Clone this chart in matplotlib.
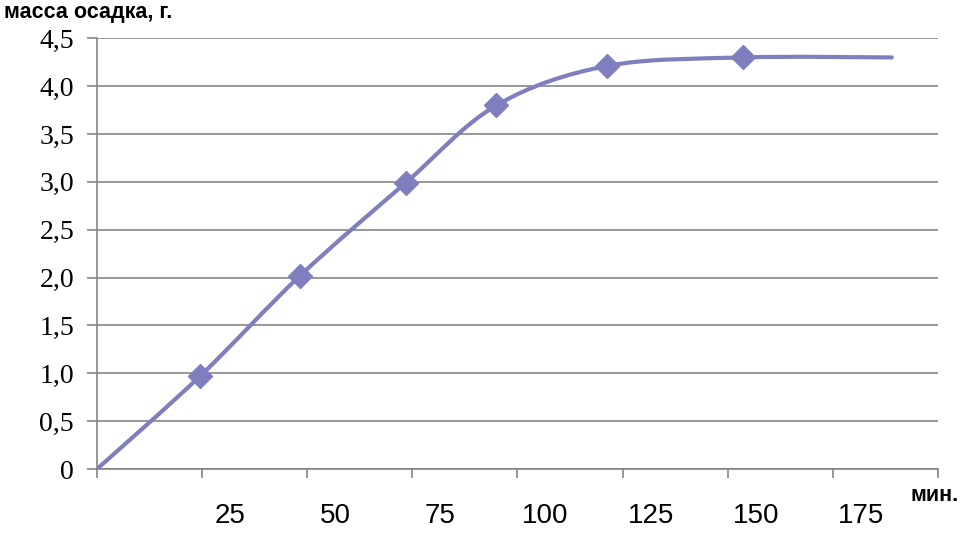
import numpy as np
import matplotlib
matplotlib.use("Agg")
import matplotlib.pyplot as plt
from matplotlib.path import Path
from matplotlib.patches import PathPatch
from matplotlib.transforms import ScaledTranslation
from matplotlib.ticker import FixedLocator, FixedFormatter

# data (time in min, sediment mass in g)
time_min = [0, 24.5, 48.3, 73.4, 95.0, 121.2, 153.7, 189.0]
mass_g = [0.0, 0.97, 2.02, 2.99, 3.80, 4.21, 4.30, 4.30]
marker_idx = [1, 2, 3, 4, 5, 6]

x_ticks = [0, 25, 50, 75, 100, 125, 150, 175, 200]
x_tick_labels = ["", "25", "50", "75", "100", "125", "150", "175", ""]
y_ticks = [0, 0.5, 1.0, 1.5, 2.0, 2.5, 3.0, 3.5, 4.0, 4.5]
y_tick_labels = ["0", "0,5", "1,0", "1,5", "2,0", "2,5", "3,0", "3,5", "4,0", "4,5"]

color = "#7F7FBF"
grid_color = "#858585"

fig = plt.figure(figsize=(9.7, 5.37), dpi=100)
ax = fig.add_axes([0.1, 0.1266, 0.867, 0.8021])

# smoothed line (Excel-style Bezier smoothing)
P = np.column_stack([time_min, mass_g])
n = len(P)
verts = [tuple(P[0])]
codes = [Path.MOVETO]
for i in range(n - 1):
    p0 = P[i - 1] if i > 0 else P[i]
    p1 = P[i]
    p2 = P[i + 1]
    p3 = P[i + 2] if i + 2 < n else P[i + 1]
    c1 = p1 + (p2 - p0) / 6.0
    c2 = p2 - (p3 - p1) / 6.0
    verts += [tuple(c1), tuple(c2), tuple(p2)]
    codes += [Path.CURVE4] * 3
ax.add_patch(PathPatch(Path(verts, codes), fill=False, edgecolor=color,
                       lw=3.0, capstyle="round", joinstyle="round", zorder=3))

ax.plot([time_min[i] for i in marker_idx], [mass_g[i] for i in marker_idx],
        linestyle="none", marker="D", markersize=12.5, color=color, zorder=4)

ax.set_xlim(0, 200)
ax.set_ylim(0, 4.5)

ax.xaxis.set_major_locator(FixedLocator(x_ticks))
ax.xaxis.set_major_formatter(FixedFormatter(x_tick_labels))
ax.yaxis.set_major_locator(FixedLocator(y_ticks))
ax.yaxis.set_major_formatter(FixedFormatter(y_tick_labels))

ax.grid(axis="y", color=grid_color, lw=1.2)
ax.set_axisbelow(True)
for s in ["top", "right"]:
    ax.spines[s].set_visible(False)
for s in ["left", "bottom"]:
    ax.spines[s].set_color(grid_color)
    ax.spines[s].set_linewidth(1.2)

ax.tick_params(axis="y", length=7.5, width=1.2, color=grid_color, pad=9,
               labelsize=20)
ax.tick_params(axis="x", length=6.5, width=1.2, color=grid_color, pad=18,
               labelsize=20)
for lab in ax.get_yticklabels():
    lab.set_fontfamily("Liberation Serif")
for lab in ax.get_xticklabels():
    lab.set_fontfamily(["Liberation Sans Narrow", "Liberation Sans"])
    lab.set_transform(lab.get_transform() + ScaledTranslation(0.28, 0, fig.dpi_scale_trans))

fig.text(0.004, 0.977, "масса осадка, г.", fontsize=15.5, fontweight="bold",
         family="Liberation Sans", ha="left", va="center")
fig.text(0.988, 0.078, "мин.", fontsize=15.5, fontweight="bold",
         family="Liberation Sans", ha="right", va="center")

fig.savefig("out.png", dpi=100, facecolor="white")
